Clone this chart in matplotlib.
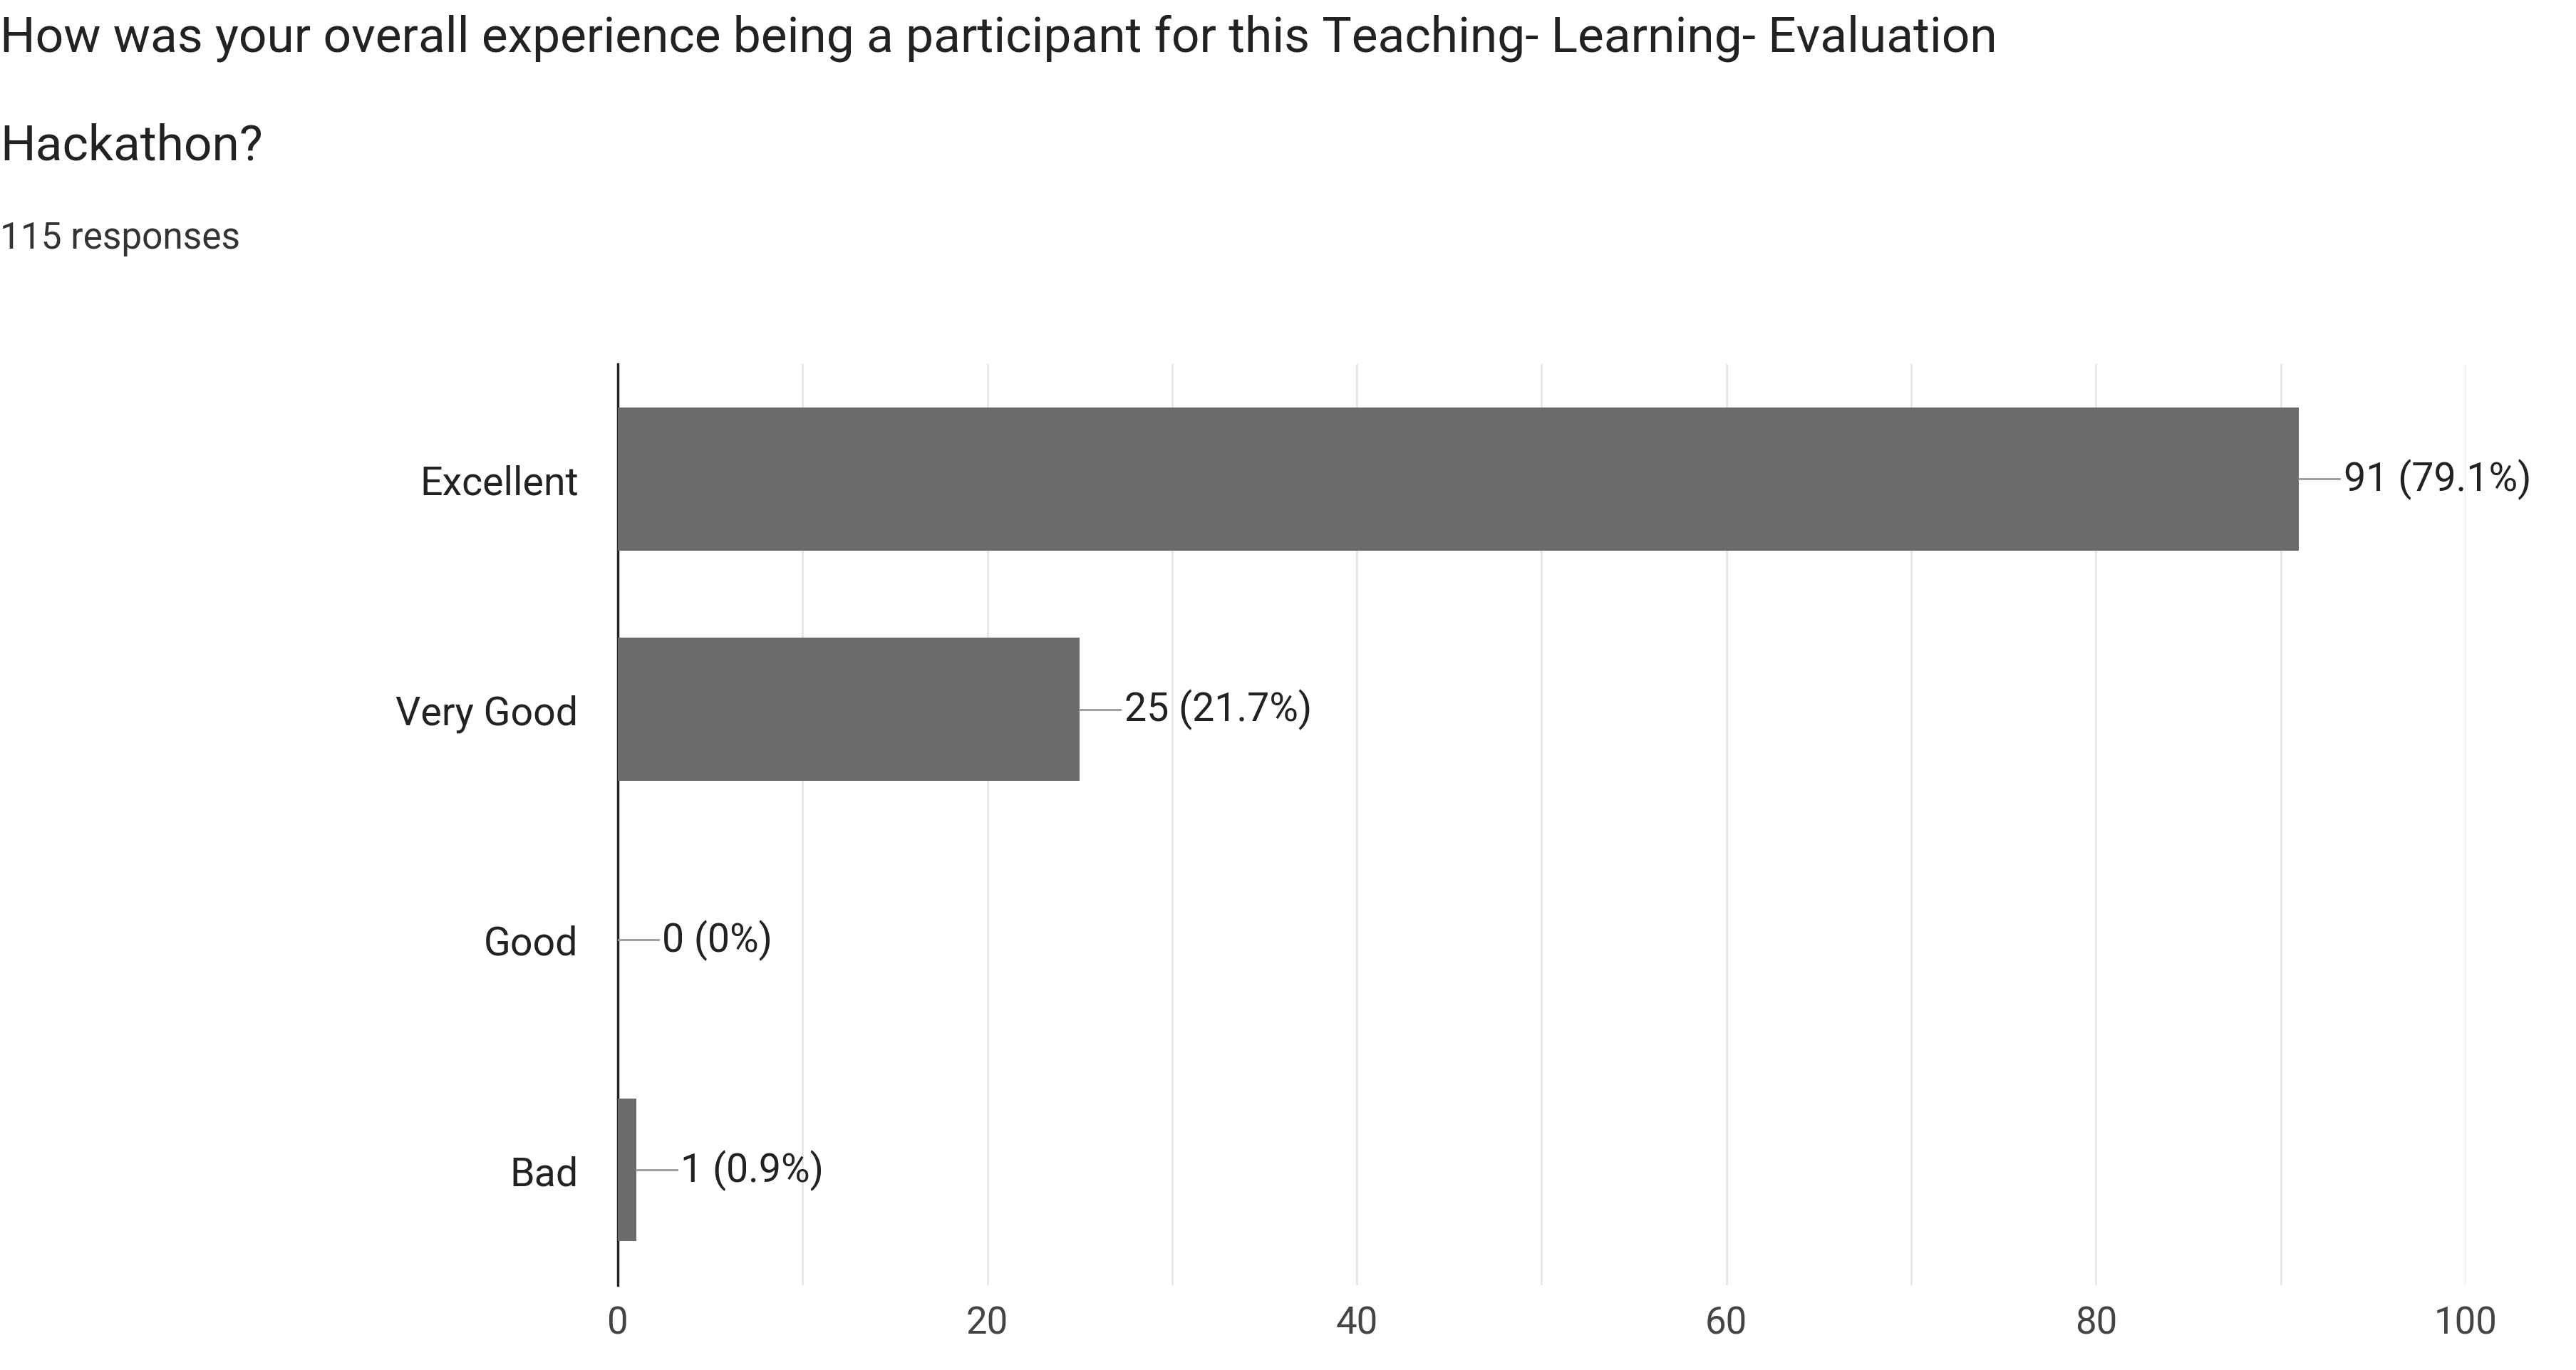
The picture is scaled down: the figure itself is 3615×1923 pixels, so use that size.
import matplotlib
matplotlib.use("Agg")
import matplotlib.pyplot as plt

categories = ["Excellent", "Very Good", "Good", "Bad"]
counts = [91, 25, 0, 1]
labels = ["91 (79.1%)", "25 (21.7%)", "0 (0%)", "1 (0.9%)"]
xticks = [0, 20, 40, 60, 80, 100]

plt.rcParams['font.family'] = ['Roboto', 'DejaVu Sans']
fig = plt.figure(figsize=(36.16, 19.24), dpi=100)
ax = fig.add_axes([0.2398, 0.062, 0.717, 0.672])
y = list(range(len(categories)))[::-1]
ax.barh(y, counts, height=0.62, color="#6b6b6b", zorder=3)
ax.set_xlim(0, 100)
ax.set_ylim(-0.5, 3.5)
ax.set_xticks(range(0, 101, 10), minor=False)
ax.set_xticklabels([str(v) if v in xticks else "" for v in range(0, 101, 10)])
ax.grid(axis='x', color="#e6e6e6", linewidth=2, zorder=0)
ax.tick_params(axis='x', length=0, labelsize=38, colors="#444444", pad=20)
ax.set_yticks(y)
ax.set_yticklabels(categories)
ax.tick_params(axis='y', length=0, labelsize=40, colors="#222222", pad=40)
for s in ["top", "right", "bottom"]:
    ax.spines[s].set_visible(False)
ax.spines["left"].set_linewidth(2.5)
ax.spines["left"].set_color("#222222")
for yi, c, lab in zip(y, counts, labels):
    ax.plot([c, c + 2.2], [yi, yi], color="#999999", lw=2, zorder=4)
    ax.text(c + 2.4, yi, lab, va='center', ha='left', fontsize=40, color="#222222")

fig.text(0.0, 0.972, "How was your overall experience being a participant for this Teaching- Learning- Evaluation",
         fontsize=50, color="#222222", va='center', ha='left')
fig.text(0.0, 0.893, "Hackathon?", fontsize=50, color="#222222", va='center', ha='left')
fig.text(0.0, 0.826, "115 responses", fontsize=37, color="#333333", va='center', ha='left')
fig.savefig("out.png", dpi=100, facecolor="white")
